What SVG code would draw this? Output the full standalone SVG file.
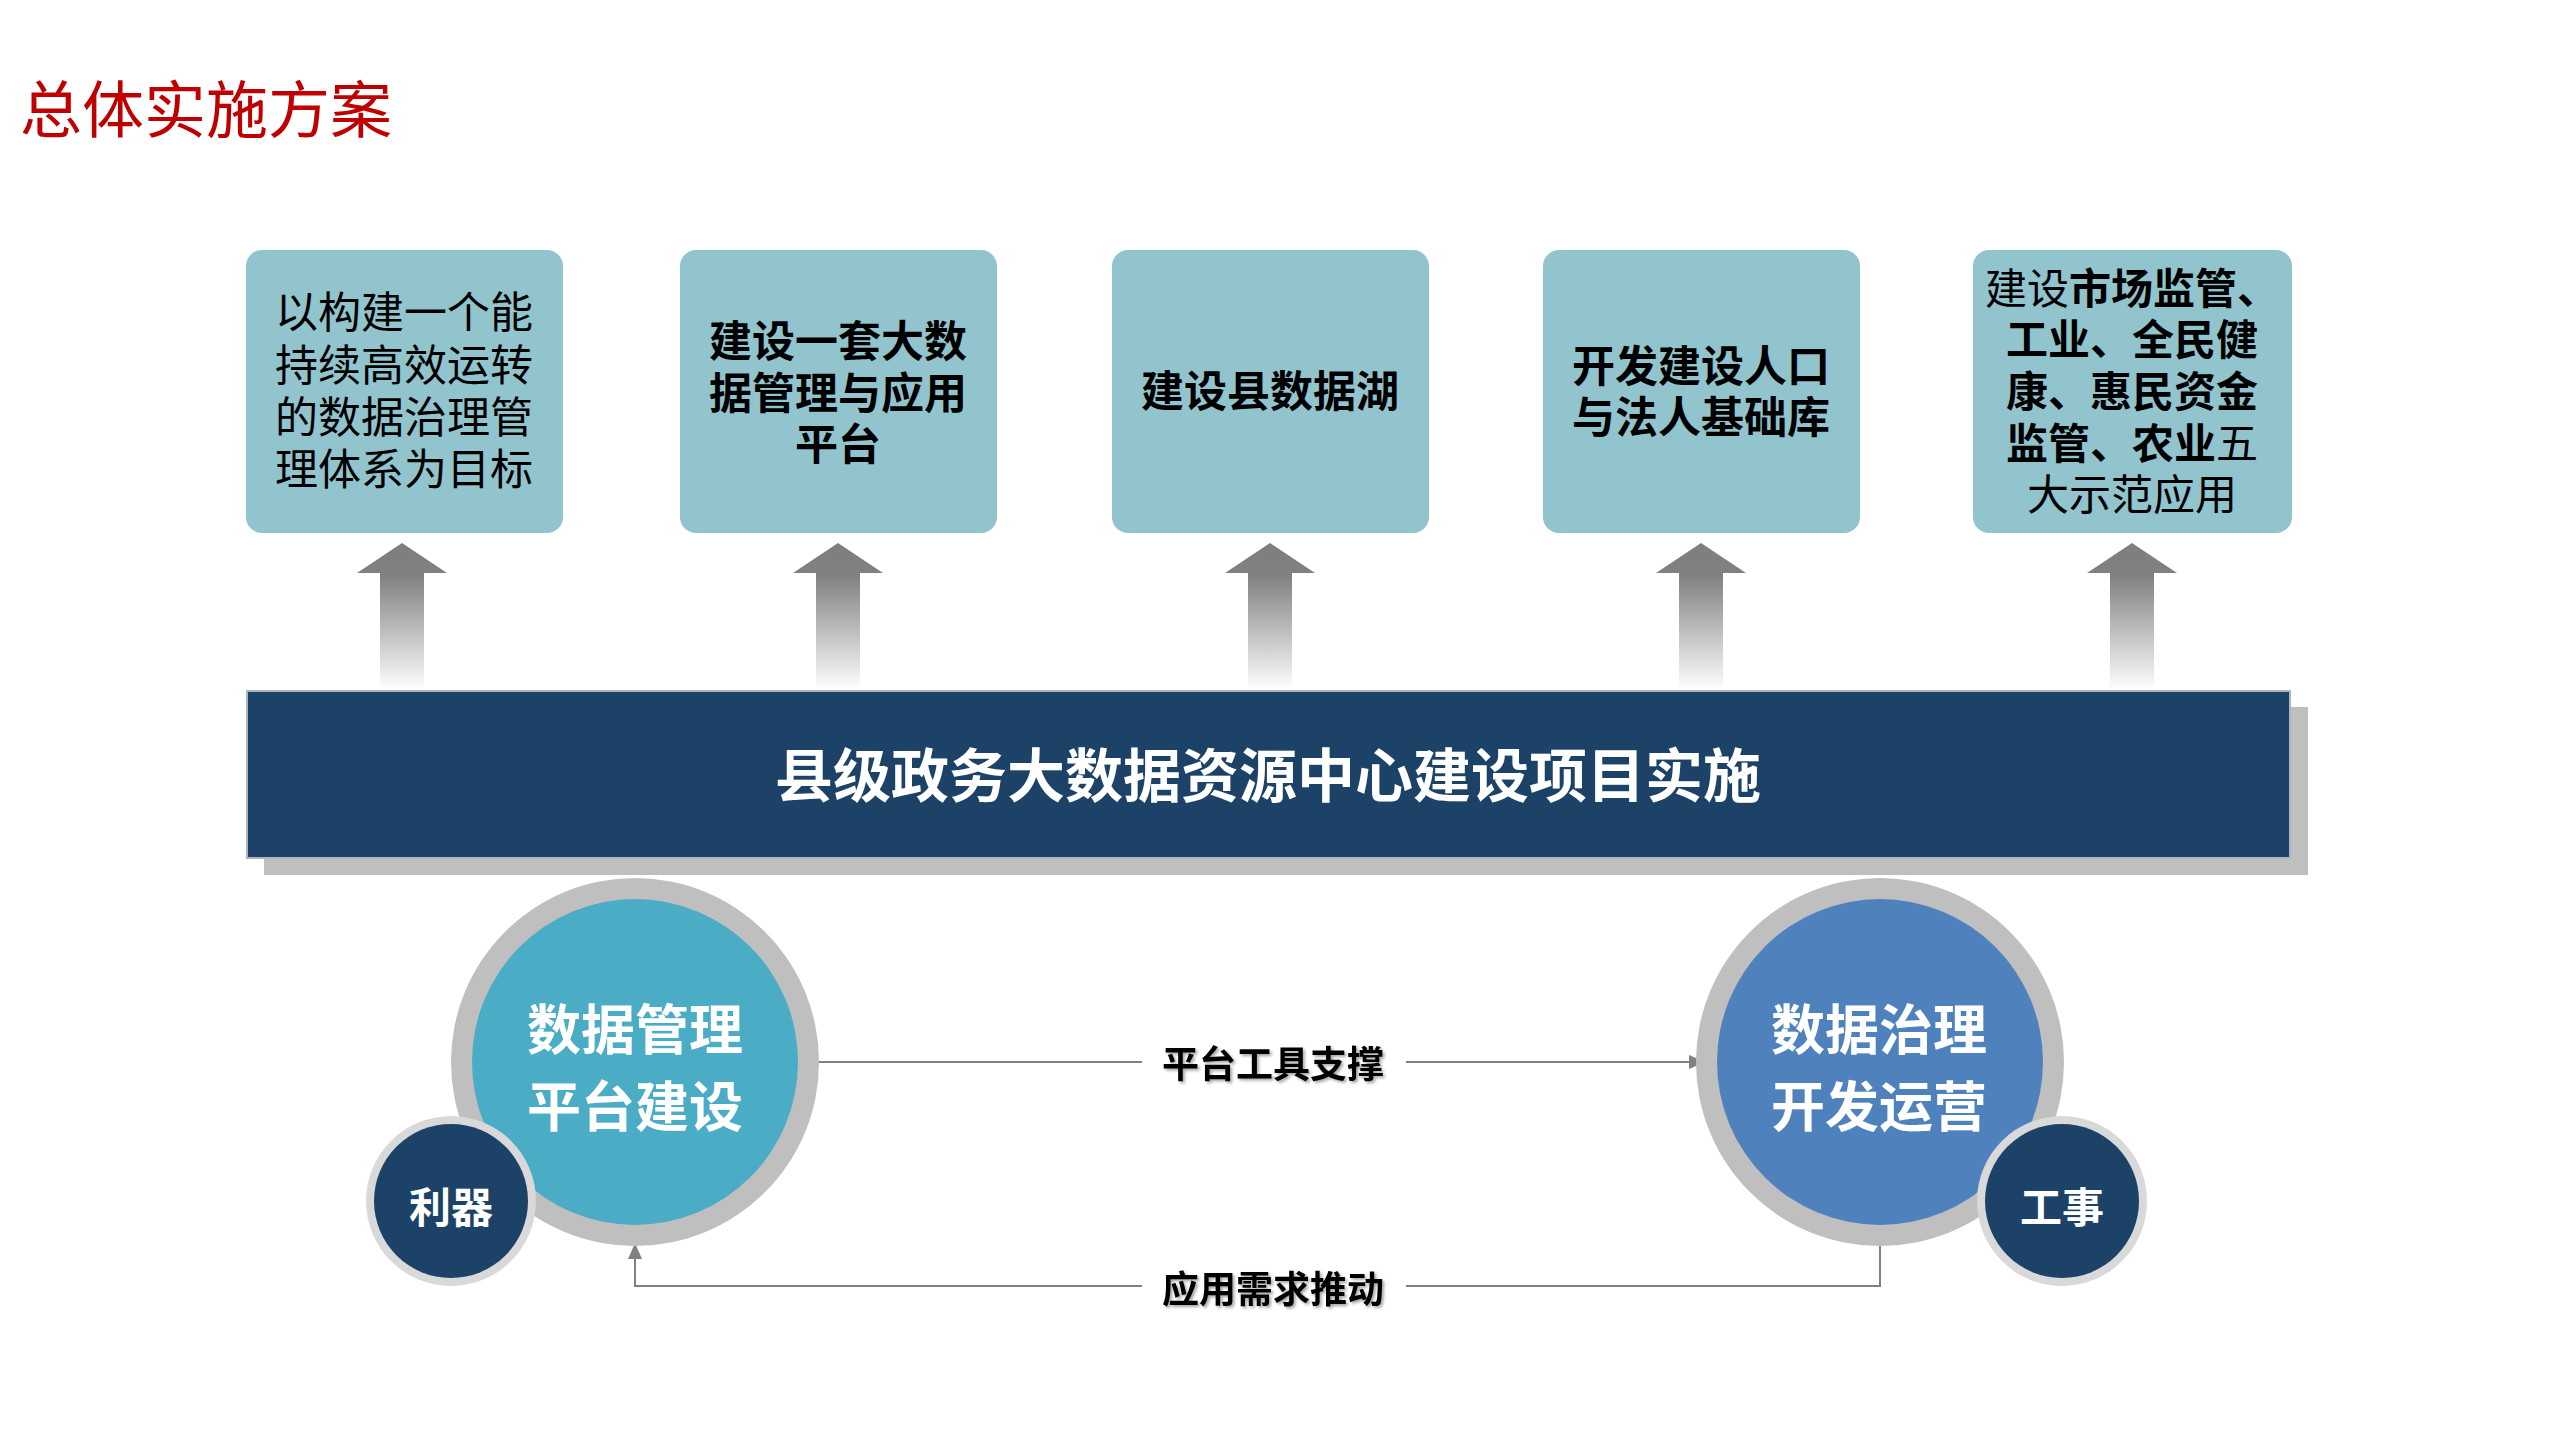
<svg xmlns="http://www.w3.org/2000/svg" width="2560" height="1440" viewBox="0 0 2560 1440">
<style>
.box{fill:#92c4cd}
.bt{font-family:"Noto Sans CJK SC","Noto Sans",sans-serif;font-size:43px;fill:#000;text-anchor:middle}
.b{font-weight:700}
.r{font-weight:400}
.arr{fill:url(#ag)}
.ring{fill:#bfbfbf}
.ring2{fill:#d9d9d9}
.dark{fill:#1d4267}
.wt{font-family:"Noto Sans CJK SC","Noto Sans",sans-serif;font-weight:700;fill:#fff;text-anchor:middle}
.conn{fill:none;stroke:#808080;stroke-width:2}
.lbl{font-family:"Noto Sans CJK SC","Noto Sans",sans-serif;font-weight:700;font-size:37px;fill:#000;text-anchor:middle}
</style>
<defs>
<linearGradient id="ag" x1="0" y1="543" x2="0" y2="690" gradientUnits="userSpaceOnUse">
<stop offset="0" stop-color="#7f7f7f"/>
<stop offset="0.22" stop-color="#808080"/>
<stop offset="1" stop-color="#ffffff"/>
</linearGradient>
<marker id="ah" viewBox="0 0 16 14" refX="16" refY="7" markerWidth="16" markerHeight="14" markerUnits="userSpaceOnUse" orient="auto">
<path d="M0,0 L16,7 L0,14 z" fill="#808080"/>
</marker>
<filter id="ts" x="-10%" y="-20%" width="120%" height="150%">
<feDropShadow dx="2" dy="2" stdDeviation="1.5" flood-color="#000" flood-opacity="0.35"/>
</filter>
</defs>
<rect width="2560" height="1440" fill="#fff"/>
<text x="20" y="133" font-family="Noto Sans CJK SC,Noto Sans,sans-serif" font-size="62" fill="#c00000">总体实施方案</text>

<g id="box1">
<rect class="box" x="246" y="250" width="317" height="283" rx="16"/>
<text class="bt r"><tspan x="404" y="328">以构建一个能</tspan><tspan x="404" y="381">持续高效运转</tspan><tspan x="404" y="433">的数据治理管</tspan><tspan x="404" y="485">理体系为目标</tspan></text>
</g>
<g id="box2">
<rect class="box" x="680" y="250" width="317" height="283" rx="16"/>
<text class="bt b"><tspan x="838" y="357">建设一套大数</tspan><tspan x="838" y="409">据管理与应用</tspan><tspan x="838" y="460">平台</tspan></text>
</g>
<g id="box3">
<rect class="box" x="1112" y="250" width="317" height="283" rx="16"/>
<text class="bt b" x="1270" y="407">建设县数据湖</text>
</g>
<g id="box4">
<rect class="box" x="1543" y="250" width="317" height="283" rx="16"/>
<text class="bt b"><tspan x="1701" y="382">开发建设人口</tspan><tspan x="1701" y="433">与法人基础库</tspan></text>
</g>
<g id="box5">
<rect class="box" x="1973" y="250" width="319" height="283" rx="16"/>
<text class="bt" style="font-size:42px"><tspan x="2132" y="304" class="r">建设</tspan><tspan class="b">市场监管、</tspan><tspan x="2132" y="355" class="b">工业、全民健</tspan><tspan x="2132" y="407" class="b">康、惠民资金</tspan><tspan x="2132" y="459" class="b">监管、农业</tspan><tspan class="r">五</tspan><tspan x="2132" y="510" class="r">大示范应用</tspan></text>
</g>

<g id="arrows">
<path class="arr" d="M402,543 L447,573 L424,573 L424,690 L380,690 L380,573 L357,573 z"/>
<path class="arr" d="M838,543 L883,573 L860,573 L860,690 L816,690 L816,573 L793,573 z"/>
<path class="arr" d="M1270,543 L1315,573 L1292,573 L1292,690 L1248,690 L1248,573 L1225,573 z"/>
<path class="arr" d="M1701,543 L1746,573 L1723,573 L1723,690 L1679,690 L1679,573 L1656,573 z"/>
<path class="arr" d="M2132,543 L2177,573 L2154,573 L2154,690 L2110,690 L2110,573 L2087,573 z"/>
</g>

<g id="bar">
<rect x="264" y="707" width="2044" height="168" fill="#bfbfbf"/>
<rect x="247" y="691" width="2043" height="167" fill="#1d4267" stroke="#a9b5c2" stroke-width="2"/>
<text class="wt" x="1268" y="797" style="font-size:58px">县级政务大数据资源中心建设项目实施</text>
</g>

<g id="connectors">
<path class="conn" d="M809,1062 H1142 M1406,1062 H1705" marker-end="url(#ah)"/>
<path class="conn" d="M1880,1238 V1286 H1406 M1142,1286 H635 V1243" marker-end="url(#ah)"/>
<text class="lbl" x="1273" y="1078" filter="url(#ts)">平台工具支撑</text>
<text class="lbl" x="1273" y="1303" filter="url(#ts)">应用需求推动</text>
</g>

<g id="circle-left">
<circle class="ring" cx="635" cy="1062" r="184"/>
<circle cx="635" cy="1062" r="163" fill="#4bacc6"/>
<text class="wt" style="font-size:54px"><tspan x="635" y="1050">数据管理</tspan><tspan x="635" y="1127">平台建设</tspan></text>
</g>
<g id="circle-liqi">
<circle class="ring2" cx="451" cy="1201" r="85"/>
<circle class="dark" cx="451" cy="1201" r="77"/>
<text class="wt" x="451" y="1223" style="font-size:42px">利器</text>
</g>
<g id="circle-right">
<circle class="ring" cx="1880" cy="1062" r="184"/>
<circle cx="1880" cy="1062" r="163" fill="#4f81bd"/>
<text class="wt" style="font-size:54px"><tspan x="1879" y="1050">数据治理</tspan><tspan x="1879" y="1127">开发运营</tspan></text>
</g>
<g id="circle-gongshi">
<circle class="ring2" cx="2062" cy="1201" r="85"/>
<circle class="dark" cx="2062" cy="1201" r="77"/>
<text class="wt" x="2062" y="1223" style="font-size:42px">工事</text>
</g>
</svg>
